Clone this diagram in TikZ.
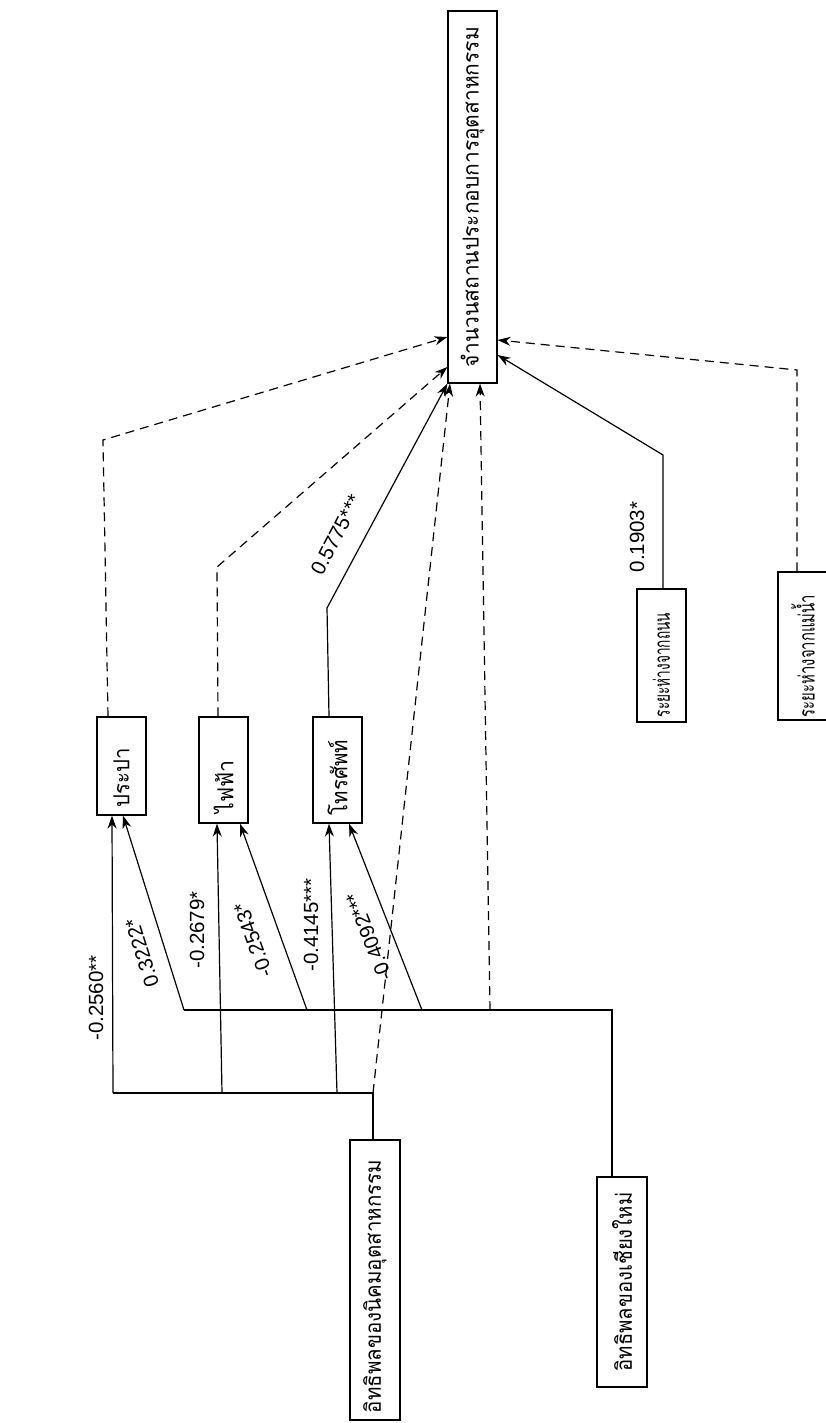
\documentclass[tikz,border=0pt]{standalone}
\usepackage{fontspec}
\usepackage{graphicx}
\setmainfont{Liberation Sans}
\newfontfamily\thaifont[Script=Thai]{Loma}
\newcommand\thaiTxt{\thaifont\fontsize{22}{22}\selectfont}
% \fitTxt{slot width}{alignment}{text length}{text}
\newcommand\fitTxt[4]{\rotatebox{90}{\makebox[#1][#2]{\resizebox{#3}{\height}{\thaiTxt #4}}}}
\usetikzlibrary{arrows.meta}
\begin{document}
\begin{tikzpicture}[x=1pt,y=-1pt,
  box/.style={draw, line width=1.2pt, inner sep=0pt, minimum width=49pt},
  conn/.style={line width=1.2pt, -{Stealth[length=13pt,width=9pt]}},
  plain/.style={line width=1.2pt},
  dsh/.style={dash pattern=on 9pt off 6pt},
  num/.style={font=\fontsize{20.5}{20.5}\selectfont, inner sep=0pt}]
\useasboundingbox (0,0) rectangle (826,1423);
\fill[white] (0,0) rectangle (826,1423);

% boxes
\node[box, minimum height=372pt] (T) at (472.5,197) {\fitTxt{340pt}{c}{340pt}{จำนวนสถานประกอบการอุตสาหกรรม}};
\node[box, minimum height=98pt] (P) at (121.5,766) {\fitTxt{82pt}{l}{59pt}{ประปา}};
\node[box, minimum height=106pt] (F) at (223.5,770) {\fitTxt{86pt}{l}{53pt}{ไฟฟ้า}};
\node[box, minimum height=106pt] (Tel) at (337.5,770) {\fitTxt{90pt}{l}{75pt}{โทรศัพท์}};
\node[box, minimum height=133pt] (R) at (661.5,655.5) {\fitTxt{123pt}{l}{104pt}{ระยะห่างจากถนน}};
\node[box, minimum height=148pt, minimum width=50pt] (W) at (803,646) {\fitTxt{142pt}{l}{122pt}{ระยะห่างจากแม่น้ำ}};
\node[box, minimum height=280pt, minimum width=50pt] (N) at (375,1280) {\fitTxt{266pt}{l}{253pt}{อิทธิพลของนิคมอุตสาหกรรม}};
\node[box, minimum height=210pt, minimum width=50pt] (C) at (622,1282) {\fitTxt{190pt}{c}{179pt}{อิทธิพลของเชียงใหม่}};

% junction coordinates
\coordinate (nj) at (373,1093);
\coordinate (nP) at (113,1093);
\coordinate (nF) at (222,1093);
\coordinate (nT) at (337,1093);
\coordinate (cj) at (612,1010);
\coordinate (cP) at (184,1010);
\coordinate (cF) at (307,1010);
\coordinate (cT) at (422,1010);
\coordinate (cW) at (490,1010);

% into the dependent variable
\draw[conn,dsh] (P.north -| 108,0) -- (103,440) -- (T.west |- 0,337);
\draw[conn,dsh] (F.north -| 218,0) -- (217,567) -- (T.west |- 0,367);
\draw[conn] (Tel.north -| 329,0) -- (327,608) -- (T.south west);
\draw[conn] (R.north -| 663,0) -- (663,455) -- (T.east |- 0,355);
\draw[conn,dsh] (W.north -| 797,0) -- (797,370) -- (T.east |- 0,340);

% industrial estate influence
\draw[plain] (N.north -| nj) -- (nj) -- (nP);
\draw[conn] (nP) -- (P.south -| 112,0);
\draw[conn] (nF) -- (F.south -| 217,0);
\draw[conn] (nT) -- (Tel.south -| 329,0);
\draw[conn,dsh] (nj) -- (T.south -| 450,0);

% Chiang Mai influence
\draw[plain] (C.north -| cj) -- (cj) -- (cP);
\draw[conn] (cP) -- (P.south -| 123,0);
\draw[conn] (cF) -- (F.south -| 240,0);
\draw[conn] (cT) -- (Tel.south -| 349,0);
\draw[conn,dsh] (cW) -- (T.south -| 480,0);

% coefficients
\node[num, rotate=90] (l1) at (96,998) {-0.2560**};
\node[num, rotate=107.5] (l2) at (142,953) {0.3222*};
\node[num, rotate=90] (l3) at (197,930) {-0.2679*};
\node[num, rotate=110] (l4) at (253,940) {-0.2543*};
\node[num, rotate=90] (l5) at (311,925) {-0.4145***};
\node[num, rotate=111.5] (l6) at (369,937) {-0.4092***};
\node[num, rotate=62.6] (l7) at (336,535) {0.5775***};
\node[num, rotate=90] (l8) at (637,537) {0.1903*};
\end{tikzpicture}
\end{document}
